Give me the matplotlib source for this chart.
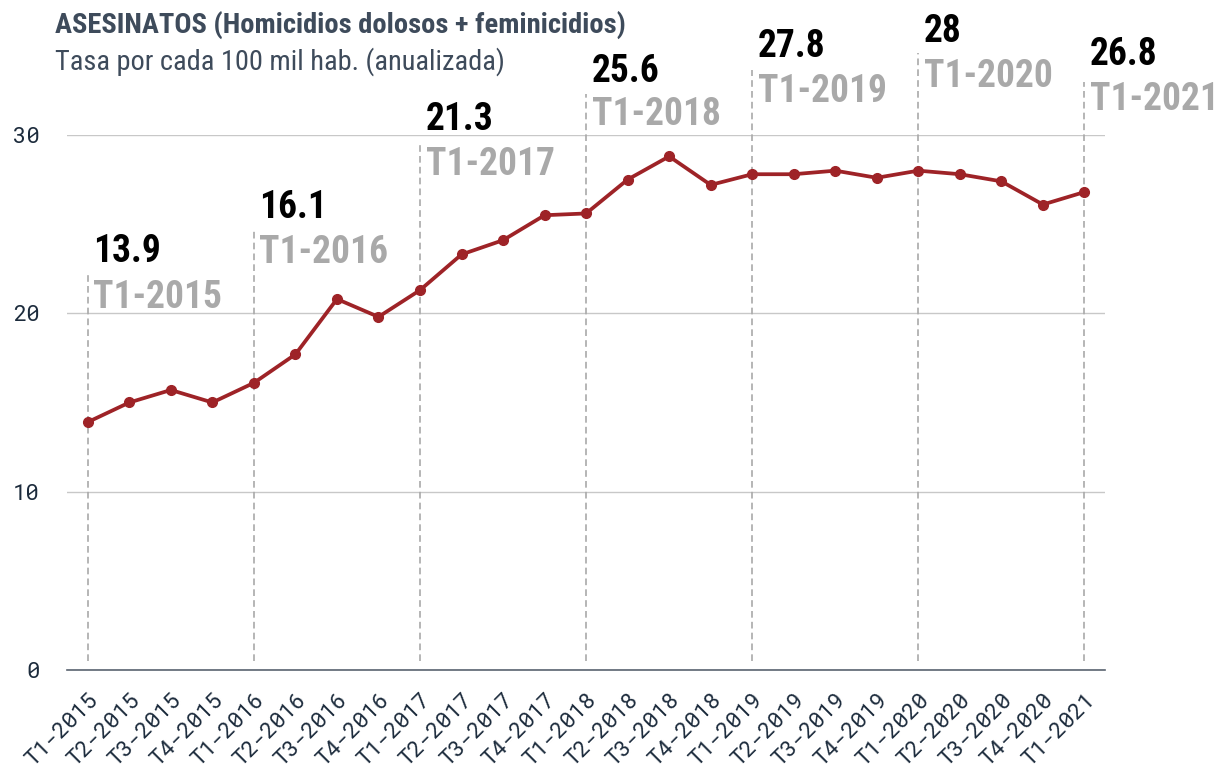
import matplotlib.pyplot as plt
import matplotlib.transforms as mtransforms
import numpy as np

# datos trimestrales (tasa por 100 mil hab., anualizada)
periodos = ['T1-2015', 'T2-2015', 'T3-2015', 'T4-2015',
            'T1-2016', 'T2-2016', 'T3-2016', 'T4-2016',
            'T1-2017', 'T2-2017', 'T3-2017', 'T4-2017',
            'T1-2018', 'T2-2018', 'T3-2018', 'T4-2018',
            'T1-2019', 'T2-2019', 'T3-2019', 'T4-2019',
            'T1-2020', 'T2-2020', 'T3-2020', 'T4-2020',
            'T1-2021']
tasa = [13.9, 15.0, 15.7, 15.0,
        16.1, 17.7, 20.8, 19.8,
        21.3, 23.3, 24.1, 25.5,
        25.6, 27.5, 28.8, 27.2,
        27.8, 27.8, 28.0, 27.6,
        28.0, 27.8, 27.4, 26.1,
        26.8]
etiquetas_valor = ['13.9', '16.1', '21.3', '25.6', '27.8', '28', '26.8']
# linea base (en unidades de y) de cada anotacion del T1
base_valor = [22.88, 25.35, 30.28, 32.97, 34.37, 35.21, 33.92]
base_anio = [20.30, 22.82, 27.76, 30.56, 31.85, 32.69, 31.40]
tope_linea = [22.21, 24.73, 29.61, 32.30, 33.64, 34.60, 32.97]

rojo = '#9e2327'
pizarra = '#3e4b5b'
gris = '#a9a9a9'
azul_osc = '#1c2b3c'
cond = ['Roboto Condensed', 'DejaVu Sans']
mono = ['Roboto Mono', 'DejaVu Sans Mono']

fig = plt.figure(figsize=(12.17, 7.74), dpi=100)
ax = fig.add_axes([0.0551, 0.1344, 0.853, 0.6912])

x = np.arange(len(periodos))
ax.plot(x, tasa, color=rojo, lw=2.7, marker='o', ms=7, zorder=3)

# lineas punteadas en cada T1
idx_t1 = [i for i, p in enumerate(periodos) if p.startswith('T1')]
for k, i in enumerate(idx_t1):
    ax.plot([i, i], [0.5, tope_linea[k]], color=gris, ls=(0, (4, 2.5)), lw=1.2,
            clip_on=False, zorder=1)
    ax.annotate(etiquetas_valor[k], xy=(i, base_valor[k]), xytext=(4, 0),
                textcoords='offset points', ha='left', va='baseline',
                fontsize=27, fontweight='bold', color='black',
                family=cond, annotation_clip=False)
    ax.annotate(periodos[i], xy=(i, base_anio[k]), xytext=(4, 0),
                textcoords='offset points', ha='left', va='baseline',
                fontsize=27, fontweight='bold', color=gris,
                family=cond, annotation_clip=False)

ax.set_xlim(-0.5, len(periodos) - 0.5)
ax.set_ylim(0, 30)
ax.set_yticks([0, 10, 20, 30])
ax.set_xticks(x)
ax.set_xticklabels(periodos, rotation=45, ha='right', va='top',
                   rotation_mode='anchor', family=mono, fontsize=16,
                   color=azul_osc)
desplaza = mtransforms.ScaledTranslation(14 / 100, 0, fig.dpi_scale_trans)
for t in ax.get_xticklabels():
    t.set_transform(t.get_transform() + desplaza)
for t in ax.get_yticklabels():
    t.set_family(mono)
    t.set_fontsize(16)
    t.set_color(azul_osc)
ax.tick_params(axis='y', length=0, pad=20)
ax.tick_params(axis='x', length=0, pad=14)

ax.grid(axis='y', color='#c8c8c8', lw=1)
ax.set_axisbelow(True)
for s in ['top', 'right', 'left']:
    ax.spines[s].set_visible(False)
ax.spines['bottom'].set_color('#5a6370')
ax.spines['bottom'].set_linewidth(1.2)

fig.text(55 / 1217, 1 - 33 / 774, 'ASESINATOS (Homicidios dolosos + feminicidios)',
         family=cond, fontweight='bold', fontsize=20.5, color=pizarra,
         ha='left', va='baseline')
fig.text(55 / 1217, 1 - 70 / 774, 'Tasa por cada 100 mil hab. (anualizada)',
         family=cond, fontsize=20.4, color=pizarra, ha='left', va='baseline')

fig.savefig('out.png', dpi=100)
